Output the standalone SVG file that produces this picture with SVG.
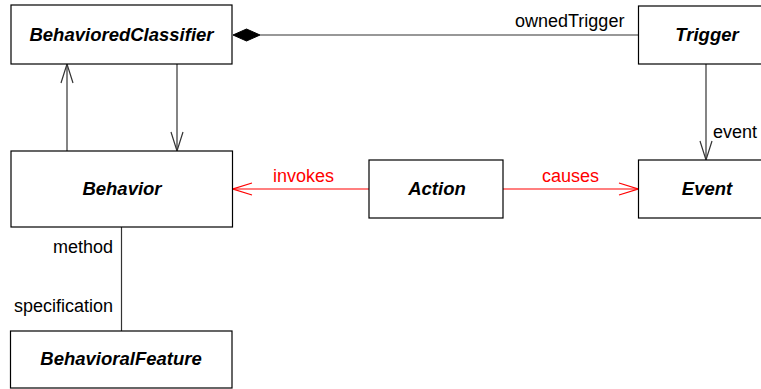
<svg xmlns="http://www.w3.org/2000/svg" width="761" height="389" viewBox="0 0 761 389">
  <style>
    .box { fill: #ffffff; stroke: #000000; stroke-width: 1.2; }
    .name { font-family: "Liberation Sans", Arial, sans-serif; font-size: 18.5px; font-weight: bold; font-style: italic; fill: #000000; text-anchor: middle; }
    .role { font-family: "Liberation Sans", Arial, sans-serif; font-size: 18px; fill: #000000; }
    .dep { font-family: "Liberation Sans", Arial, sans-serif; font-size: 18px; fill: #ff0000; }
    .line { fill: none; stroke: #333333; stroke-width: 1.2; }
    .red { fill: none; stroke: #ff0000; stroke-width: 1.2; }
  </style>
  <defs>
    <marker id="open" viewBox="0 0 20 20" refX="20" refY="10" markerWidth="20" markerHeight="20" markerUnits="userSpaceOnUse" orient="auto">
      <path d="M1,4 L20,10 L1,16" fill="none" stroke="#333333" stroke-width="1.2"/>
    </marker>
    <marker id="openRed" viewBox="0 0 20 20" refX="20" refY="10" markerWidth="20" markerHeight="20" markerUnits="userSpaceOnUse" orient="auto">
      <path d="M1,4 L20,10 L1,16" fill="none" stroke="#ff0000" stroke-width="1.2"/>
    </marker>
  </defs>

  <g id="connectors">
    <!-- composition: BehavioredClassifier owns Trigger -->
    <path class="line" d="M260,35 L638,35"/>
    <path d="M233,35 L246.5,29 L260,35 L246.5,41 Z" fill="#000000" stroke="#000000" stroke-width="1"/>
    <text class="role" x="515" y="27">ownedTrigger</text>
    <!-- Behavior -> BehavioredClassifier -->
    <path class="line" d="M67,151 L67,64" marker-end="url(#open)"/>
    <!-- BehavioredClassifier -> Behavior -->
    <path class="line" d="M177,64 L177,151" marker-end="url(#open)"/>
    <!-- Trigger -> Event -->
    <path class="line" d="M706,64 L706,160" marker-end="url(#open)"/>
    <text class="role" x="713" y="138">event</text>
    <!-- Behavior / BehavioralFeature -->
    <path class="line" d="M121.5,227 L121.5,331"/>
    <text class="role" x="113" y="253" text-anchor="end">method</text>
    <text class="role" x="113" y="312" text-anchor="end">specification</text>
    <!-- Action dependencies -->
    <path class="red" d="M369,189 L233,189" marker-end="url(#openRed)"/>
    <text class="dep" x="273" y="182">invokes</text>
    <path class="red" d="M503,189 L638,189" marker-end="url(#openRed)"/>
    <text class="dep" x="542" y="182">causes</text>
  </g>

  <g id="BehavioredClassifier">
    <rect class="box" x="11" y="5" width="221" height="59"/>
    <text class="name" x="121.5" y="41">BehavioredClassifier</text>
  </g>
  <g id="Trigger">
    <rect class="box" x="638.5" y="6" width="140" height="58"/>
    <text class="name" x="707" y="41">Trigger</text>
  </g>
  <g id="Behavior">
    <rect class="box" x="11" y="151" width="221.5" height="76"/>
    <text class="name" x="122" y="195">Behavior</text>
  </g>
  <g id="Action">
    <rect class="box" x="369" y="160" width="134" height="58"/>
    <text class="name" x="437" y="195">Action</text>
  </g>
  <g id="Event">
    <rect class="box" x="638.5" y="160" width="140" height="58"/>
    <text class="name" x="707" y="195">Event</text>
  </g>
  <g id="BehavioralFeature">
    <rect class="box" x="10.5" y="331" width="221.5" height="57"/>
    <text class="name" x="121" y="365">BehavioralFeature</text>
  </g>
</svg>
